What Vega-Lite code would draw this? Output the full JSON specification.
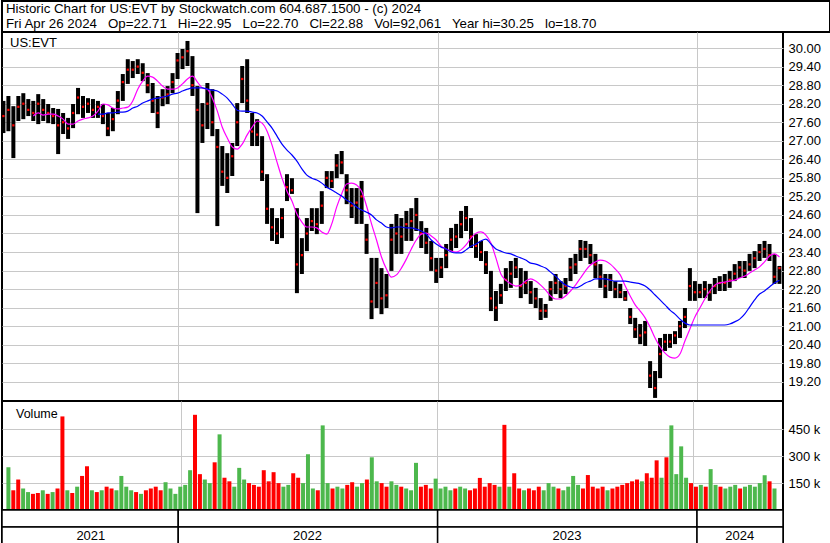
{
"$schema":"https://vega.github.io/schema/vega-lite/v6.json",
"padding":0,"spacing":0,"bounds":"flush","background":"white",
"config":{"font":"Liberation Sans","view":{"stroke":"#000000","strokeWidth":2},
"axis":{"labelFont":"Liberation Sans","labelColor":"#000000","gridColor":"#c8c8c8","gridOpacity":1,"gridWidth":1,"domain":false,"ticks":false,"title":null}},
"datasets":{
"w":[
{"d":"2021-04-30","h":28.29,"l":27.25,"c":27.8,"v":239,"u":1},
{"d":"2021-05-07","h":28.45,"l":27.31,"c":28.0,"v":110,"u":0},
{"d":"2021-05-14","h":28.12,"l":26.44,"c":27.5,"v":170,"u":0},
{"d":"2021-05-21","h":28.45,"l":27.64,"c":28.1,"v":120,"u":1},
{"d":"2021-05-28","h":28.54,"l":27.70,"c":28.2,"v":100,"u":1},
{"d":"2021-06-04","h":28.35,"l":27.80,"c":28.0,"v":90,"u":0},
{"d":"2021-06-11","h":28.29,"l":27.64,"c":27.9,"m1":27.80,"v":95,"u":0},
{"d":"2021-06-18","h":28.51,"l":27.54,"c":28.2,"m1":27.90,"v":110,"u":1},
{"d":"2021-06-25","h":28.35,"l":27.64,"c":28.0,"m1":27.83,"v":90,"u":0},
{"d":"2021-07-02","h":28.19,"l":27.57,"c":27.9,"m1":27.86,"v":100,"u":1},
{"d":"2021-07-09","h":28.06,"l":27.54,"c":27.8,"m1":27.86,"v":120,"u":0},
{"d":"2021-07-16","h":28.03,"l":26.57,"c":27.5,"m1":27.80,"v":522,"u":0},
{"d":"2021-07-23","h":27.90,"l":27.22,"c":27.6,"m1":27.70,"v":110,"u":1},
{"d":"2021-07-30","h":27.74,"l":27.06,"c":27.4,"m1":27.54,"v":95,"u":0},
{"d":"2021-08-06","h":28.19,"l":27.41,"c":27.9,"m1":27.54,"v":130,"u":1},
{"d":"2021-08-13","h":28.71,"l":27.86,"c":28.4,"m1":27.64,"v":190,"u":0},
{"d":"2021-08-20","h":28.45,"l":27.74,"c":28.1,"m1":27.70,"v":244,"u":0},
{"d":"2021-08-27","h":28.38,"l":27.90,"c":28.2,"m1":27.74,"v":110,"u":1},
{"d":"2021-09-03","h":28.35,"l":27.74,"c":28.0,"m1":27.80,"v":100,"u":0},
{"d":"2021-09-10","h":28.29,"l":27.74,"c":28.1,"m1":27.96,"m2":27.86,"v":110,"u":1},
{"d":"2021-09-17","h":28.19,"l":27.54,"c":27.8,"m1":28.19,"m2":27.86,"v":130,"u":0},
{"d":"2021-09-24","h":27.90,"l":27.15,"c":27.4,"m1":28.16,"m2":27.90,"v":120,"u":0},
{"d":"2021-10-01","h":28.06,"l":27.31,"c":27.7,"m1":28.06,"m2":27.90,"v":110,"u":1},
{"d":"2021-10-08","h":28.61,"l":27.86,"c":28.3,"m1":28.03,"m2":27.93,"v":190,"u":1},
{"d":"2021-10-15","h":29.16,"l":28.29,"c":28.9,"m1":28.06,"m2":27.93,"v":130,"u":1},
{"d":"2021-10-22","h":29.64,"l":28.84,"c":29.3,"m1":28.09,"m2":27.96,"v":110,"u":1},
{"d":"2021-10-29","h":29.58,"l":29.03,"c":29.3,"m1":28.29,"m2":28.06,"v":100,"u":0},
{"d":"2021-11-05","h":29.64,"l":29.16,"c":29.4,"m1":28.67,"m2":28.12,"v":90,"u":1},
{"d":"2021-11-12","h":29.51,"l":28.93,"c":29.2,"m1":28.93,"m2":28.22,"v":110,"u":0},
{"d":"2021-11-19","h":29.19,"l":28.54,"c":28.8,"m1":29.09,"m2":28.29,"v":120,"u":0},
{"d":"2021-11-26","h":28.87,"l":27.90,"c":28.3,"m1":29.06,"m2":28.35,"v":130,"u":0},
{"d":"2021-12-03","h":28.45,"l":27.41,"c":27.9,"m1":28.93,"m2":28.38,"v":110,"u":0},
{"d":"2021-12-10","h":28.67,"l":28.12,"c":28.4,"m1":28.77,"m2":28.41,"v":155,"u":1},
{"d":"2021-12-17","h":28.77,"l":28.19,"c":28.5,"m1":28.67,"m2":28.45,"v":120,"u":1},
{"d":"2021-12-24","h":29.19,"l":28.54,"c":28.9,"m1":28.67,"m2":28.51,"v":90,"u":1},
{"d":"2021-12-31","h":29.84,"l":29.00,"c":29.6,"m1":28.71,"m2":28.54,"v":130,"u":1},
{"d":"2022-01-07","h":29.97,"l":29.32,"c":29.7,"m1":28.84,"m2":28.61,"v":140,"u":1},
{"d":"2022-01-14","h":30.23,"l":29.42,"c":29.9,"m1":29.00,"m2":28.67,"v":222,"u":1},
{"d":"2022-01-21","h":29.74,"l":28.45,"c":28.8,"m1":29.09,"m2":28.71,"v":531,"u":0},
{"d":"2022-01-28","h":28.77,"l":24.66,"c":28.0,"m1":28.90,"m2":28.71,"v":200,"u":0},
{"d":"2022-02-04","h":28.22,"l":26.93,"c":27.5,"m1":28.71,"m2":28.71,"v":170,"u":1},
{"d":"2022-02-11","h":28.87,"l":27.38,"c":28.2,"m1":28.67,"m2":28.67,"v":150,"u":1},
{"d":"2022-02-18","h":28.67,"l":27.15,"c":27.6,"m1":28.38,"m2":28.64,"v":266,"u":0},
{"d":"2022-02-25","h":27.38,"l":24.24,"c":26.8,"m1":27.96,"m2":28.61,"v":422,"u":1},
{"d":"2022-03-04","h":26.83,"l":25.54,"c":26.0,"m1":27.44,"m2":28.51,"v":180,"u":0},
{"d":"2022-03-11","h":26.60,"l":25.31,"c":25.8,"m1":27.09,"m2":28.38,"v":160,"u":0},
{"d":"2022-03-18","h":26.93,"l":25.86,"c":26.5,"m1":26.80,"m2":28.19,"v":130,"u":1},
{"d":"2022-03-25","h":28.22,"l":26.83,"c":27.6,"m1":26.73,"m2":27.99,"v":235,"u":1},
{"d":"2022-04-01","h":29.42,"l":28.22,"c":29.0,"m1":26.89,"m2":27.96,"v":170,"u":1},
{"d":"2022-04-08","h":29.64,"l":27.90,"c":28.3,"m1":27.19,"m2":27.96,"v":150,"u":0},
{"d":"2022-04-15","h":27.90,"l":26.83,"c":27.3,"m1":27.44,"m2":27.93,"v":140,"u":0},
{"d":"2022-04-22","h":27.70,"l":26.83,"c":27.2,"m1":27.64,"m2":27.90,"v":130,"u":0},
{"d":"2022-04-29","h":27.15,"l":25.70,"c":26.0,"m1":27.57,"m2":27.80,"v":222,"u":0},
{"d":"2022-05-06","h":25.92,"l":24.31,"c":24.8,"m1":27.31,"m2":27.61,"v":160,"u":0},
{"d":"2022-05-13","h":24.82,"l":23.76,"c":24.2,"m1":26.86,"m2":27.41,"v":211,"u":0},
{"d":"2022-05-20","h":24.50,"l":23.66,"c":24.0,"m1":26.31,"m2":27.15,"v":150,"u":0},
{"d":"2022-05-27","h":24.82,"l":23.85,"c":24.5,"m1":25.79,"m2":26.89,"v":130,"u":1},
{"d":"2022-06-03","h":25.92,"l":25.05,"c":25.5,"m1":25.37,"m2":26.70,"v":140,"u":1},
{"d":"2022-06-10","h":25.79,"l":25.28,"c":25.4,"m1":25.05,"m2":26.54,"v":205,"u":0},
{"d":"2022-06-17","h":24.82,"l":22.07,"c":23.0,"m1":24.63,"m2":26.34,"v":180,"u":0},
{"d":"2022-06-24","h":23.85,"l":22.69,"c":23.3,"m1":24.37,"m2":26.09,"v":150,"u":1},
{"d":"2022-07-01","h":24.50,"l":23.43,"c":24.0,"m1":24.21,"m2":25.89,"v":311,"u":1},
{"d":"2022-07-08","h":24.82,"l":24.08,"c":24.4,"m1":24.21,"m2":25.79,"v":120,"u":1},
{"d":"2022-07-15","h":24.82,"l":23.98,"c":24.3,"m1":24.18,"m2":25.73,"v":110,"u":0},
{"d":"2022-07-22","h":25.37,"l":24.31,"c":24.9,"m1":24.05,"m2":25.63,"v":472,"u":1},
{"d":"2022-07-29","h":26.02,"l":25.47,"c":25.8,"m1":23.98,"m2":25.50,"v":150,"u":1},
{"d":"2022-08-05","h":26.02,"l":25.47,"c":25.7,"m1":24.31,"m2":25.41,"v":120,"u":0},
{"d":"2022-08-12","h":26.57,"l":25.79,"c":26.2,"m1":24.86,"m2":25.31,"v":130,"u":1},
{"d":"2022-08-19","h":26.67,"l":25.92,"c":26.3,"m1":25.28,"m2":25.21,"v":120,"u":1},
{"d":"2022-08-26","h":25.92,"l":24.95,"c":25.4,"m1":25.60,"m2":25.08,"v":140,"u":0},
{"d":"2022-09-02","h":25.47,"l":24.50,"c":24.9,"m1":25.63,"m2":24.99,"v":155,"u":0},
{"d":"2022-09-09","h":25.47,"l":24.31,"c":25.0,"m1":25.57,"m2":24.86,"v":130,"u":1},
{"d":"2022-09-16","h":25.70,"l":24.31,"c":25.2,"m1":25.37,"m2":24.76,"v":150,"u":1},
{"d":"2022-09-23","h":24.31,"l":23.34,"c":23.8,"m1":24.89,"m2":24.69,"v":170,"u":0},
{"d":"2022-09-30","h":23.21,"l":21.23,"c":21.8,"m1":24.31,"m2":24.60,"v":294,"u":1},
{"d":"2022-10-07","h":23.21,"l":21.59,"c":22.4,"m1":23.79,"m2":24.44,"v":160,"u":1},
{"d":"2022-10-14","h":22.88,"l":21.39,"c":21.9,"m1":23.24,"m2":24.34,"v":150,"u":0},
{"d":"2022-10-21","h":22.69,"l":21.59,"c":22.0,"m1":22.85,"m2":24.21,"v":130,"u":0},
{"d":"2022-10-28","h":24.31,"l":22.79,"c":23.8,"m1":22.59,"m2":24.18,"v":160,"u":1},
{"d":"2022-11-04","h":24.63,"l":23.34,"c":24.0,"m1":22.66,"m2":24.21,"v":140,"u":1},
{"d":"2022-11-11","h":24.50,"l":23.34,"c":23.9,"m1":22.88,"m2":24.21,"v":130,"u":0},
{"d":"2022-11-18","h":24.73,"l":23.76,"c":24.3,"m1":23.17,"m2":24.18,"v":120,"u":1},
{"d":"2022-11-25","h":24.82,"l":23.76,"c":24.4,"m1":23.50,"m2":24.18,"v":110,"u":1},
{"d":"2022-12-02","h":25.15,"l":24.08,"c":24.6,"m1":23.79,"m2":24.14,"v":263,"u":1},
{"d":"2022-12-09","h":24.40,"l":23.53,"c":24.0,"m1":23.98,"m2":24.08,"v":130,"u":0},
{"d":"2022-12-16","h":24.18,"l":23.34,"c":23.7,"m1":24.01,"m2":23.98,"v":140,"u":0},
{"d":"2022-12-23","h":23.76,"l":22.79,"c":23.2,"m1":23.92,"m2":23.79,"v":120,"u":0},
{"d":"2022-12-30","h":23.21,"l":22.40,"c":22.8,"m1":23.79,"m2":23.66,"v":175,"u":1},
{"d":"2023-01-06","h":23.21,"l":22.56,"c":22.9,"m1":23.59,"m2":23.56,"v":120,"u":1},
{"d":"2023-01-13","h":23.66,"l":22.88,"c":23.3,"m1":23.50,"m2":23.50,"v":130,"u":1},
{"d":"2023-01-20","h":24.18,"l":23.43,"c":23.8,"m1":23.43,"m2":23.40,"v":110,"u":1},
{"d":"2023-01-27","h":24.31,"l":23.53,"c":23.9,"m1":23.40,"m2":23.37,"v":120,"u":0},
{"d":"2023-02-03","h":24.73,"l":23.85,"c":24.3,"m1":23.47,"m2":23.37,"v":130,"u":1},
{"d":"2023-02-10","h":24.89,"l":24.08,"c":24.5,"m1":23.63,"m2":23.47,"v":120,"u":1},
{"d":"2023-02-17","h":24.50,"l":23.53,"c":23.9,"m1":23.85,"m2":23.59,"v":110,"u":0},
{"d":"2023-02-24","h":23.98,"l":23.21,"c":23.6,"m1":24.01,"m2":23.66,"v":120,"u":0},
{"d":"2023-03-03","h":23.76,"l":23.11,"c":23.4,"m1":24.05,"m2":23.76,"v":179,"u":0},
{"d":"2023-03-10","h":23.43,"l":22.69,"c":23.0,"m1":23.95,"m2":23.82,"v":130,"u":0},
{"d":"2023-03-17","h":22.79,"l":21.49,"c":21.9,"m1":23.69,"m2":23.66,"v":150,"u":0},
{"d":"2023-03-24","h":22.14,"l":21.17,"c":21.6,"m1":23.21,"m2":23.50,"v":140,"u":0},
{"d":"2023-03-31","h":22.37,"l":21.72,"c":22.0,"m1":22.69,"m2":23.43,"v":130,"u":1},
{"d":"2023-04-07","h":22.88,"l":22.14,"c":22.5,"m1":22.49,"m2":23.37,"v":475,"u":0},
{"d":"2023-04-14","h":23.11,"l":22.24,"c":22.7,"m1":22.37,"m2":23.34,"v":130,"u":1},
{"d":"2023-04-21","h":23.21,"l":22.56,"c":22.9,"m1":22.30,"m2":23.27,"v":205,"u":0},
{"d":"2023-04-28","h":22.88,"l":21.91,"c":22.3,"m1":22.33,"m2":23.21,"v":120,"u":0},
{"d":"2023-05-05","h":22.79,"l":22.04,"c":22.4,"m1":22.46,"m2":23.14,"v":110,"u":1},
{"d":"2023-05-12","h":22.46,"l":21.72,"c":22.1,"m1":22.53,"m2":23.04,"v":120,"u":0},
{"d":"2023-05-19","h":22.24,"l":21.59,"c":21.9,"m1":22.46,"m2":23.01,"v":110,"u":0},
{"d":"2023-05-26","h":21.91,"l":21.20,"c":21.5,"m1":22.33,"m2":22.95,"v":130,"u":0},
{"d":"2023-06-02","h":21.72,"l":21.27,"c":21.5,"m1":22.17,"m2":22.88,"v":110,"u":1},
{"d":"2023-06-09","h":22.46,"l":21.82,"c":22.2,"m1":21.98,"m2":22.75,"v":150,"u":1},
{"d":"2023-06-16","h":22.69,"l":22.04,"c":22.4,"m1":21.88,"m2":22.62,"v":130,"u":1},
{"d":"2023-06-23","h":22.46,"l":21.91,"c":22.2,"m1":21.88,"m2":22.46,"v":120,"u":0},
{"d":"2023-06-30","h":22.56,"l":22.04,"c":22.3,"m1":21.98,"m2":22.33,"v":110,"u":1},
{"d":"2023-07-07","h":23.21,"l":22.46,"c":22.9,"m1":22.14,"m2":22.27,"v":130,"u":1},
{"d":"2023-07-14","h":23.34,"l":22.69,"c":23.0,"m1":22.33,"m2":22.24,"v":190,"u":1},
{"d":"2023-07-21","h":23.79,"l":23.11,"c":23.5,"m1":22.56,"m2":22.30,"v":140,"u":1},
{"d":"2023-07-28","h":23.76,"l":23.21,"c":23.5,"m1":22.79,"m2":22.40,"v":120,"u":0},
{"d":"2023-08-04","h":23.66,"l":23.01,"c":23.3,"m1":22.98,"m2":22.46,"v":195,"u":0},
{"d":"2023-08-11","h":23.34,"l":22.56,"c":23.0,"m1":23.08,"m2":22.53,"v":130,"u":0},
{"d":"2023-08-18","h":23.01,"l":22.24,"c":22.6,"m1":23.14,"m2":22.53,"v":120,"u":0},
{"d":"2023-08-25","h":22.69,"l":21.91,"c":22.3,"m1":23.11,"m2":22.53,"v":130,"u":0},
{"d":"2023-09-01","h":22.69,"l":22.14,"c":22.5,"m1":23.01,"m2":22.49,"v":110,"u":1},
{"d":"2023-09-08","h":22.46,"l":21.91,"c":22.2,"m1":22.85,"m2":22.46,"v":120,"u":0},
{"d":"2023-09-15","h":22.37,"l":21.91,"c":22.1,"m1":22.66,"m2":22.46,"v":130,"u":0},
{"d":"2023-09-22","h":22.14,"l":21.82,"c":21.9,"m1":22.30,"m2":22.46,"v":140,"u":0},
{"d":"2023-09-29","h":21.59,"l":21.07,"c":21.3,"m1":21.98,"m2":22.43,"v":150,"u":0},
{"d":"2023-10-06","h":21.27,"l":20.62,"c":20.9,"m1":21.69,"m2":22.40,"v":160,"u":0},
{"d":"2023-10-13","h":21.07,"l":20.42,"c":20.7,"m1":21.49,"m2":22.37,"v":170,"u":0},
{"d":"2023-10-20","h":21.17,"l":20.36,"c":20.8,"m1":21.27,"m2":22.30,"v":160,"u":1},
{"d":"2023-10-27","h":19.87,"l":19.00,"c":19.4,"m1":20.97,"m2":22.17,"v":205,"u":0},
{"d":"2023-11-03","h":19.55,"l":18.68,"c":19.0,"m1":20.62,"m2":22.01,"v":180,"u":0},
{"d":"2023-11-10","h":20.62,"l":19.32,"c":20.1,"m1":20.33,"m2":21.85,"v":277,"u":0},
{"d":"2023-11-17","h":20.75,"l":20.20,"c":20.5,"m1":20.13,"m2":21.69,"v":180,"u":1},
{"d":"2023-11-24","h":20.75,"l":20.30,"c":20.5,"m1":20.00,"m2":21.52,"v":294,"u":0},
{"d":"2023-12-01","h":20.84,"l":20.42,"c":20.7,"m1":19.97,"m2":21.39,"v":472,"u":1},
{"d":"2023-12-08","h":21.17,"l":20.62,"c":21.0,"m1":20.10,"m2":21.23,"v":200,"u":1},
{"d":"2023-12-15","h":21.59,"l":20.94,"c":21.3,"m1":20.52,"m2":21.10,"v":355,"u":1},
{"d":"2023-12-22","h":22.88,"l":21.82,"c":22.3,"m1":20.91,"m2":21.04,"v":180,"u":1},
{"d":"2023-12-29","h":22.46,"l":21.82,"c":22.1,"m1":21.30,"m2":21.04,"v":150,"u":0},
{"d":"2024-01-05","h":22.37,"l":21.91,"c":22.1,"m1":21.59,"m2":21.04,"v":130,"u":0},
{"d":"2024-01-12","h":22.46,"l":21.91,"c":22.2,"m1":21.88,"m2":21.04,"v":140,"u":1},
{"d":"2024-01-19","h":22.37,"l":21.82,"c":22.1,"m1":22.14,"m2":21.04,"v":130,"u":0},
{"d":"2024-01-26","h":22.56,"l":22.04,"c":22.3,"m1":22.33,"m2":21.04,"v":228,"u":1},
{"d":"2024-02-02","h":22.62,"l":22.14,"c":22.4,"m1":22.40,"m2":21.04,"v":140,"u":1},
{"d":"2024-02-09","h":22.69,"l":22.14,"c":22.4,"m1":22.43,"m2":21.04,"v":130,"u":0},
{"d":"2024-02-16","h":22.79,"l":22.24,"c":22.5,"m1":22.46,"m2":21.07,"v":120,"u":1},
{"d":"2024-02-23","h":23.01,"l":22.46,"c":22.7,"m1":22.49,"m2":21.14,"v":130,"u":1},
{"d":"2024-03-01","h":23.11,"l":22.56,"c":22.9,"m1":22.56,"m2":21.23,"v":140,"u":1},
{"d":"2024-03-08","h":23.11,"l":22.56,"c":22.8,"m1":22.62,"m2":21.39,"v":120,"u":0},
{"d":"2024-03-15","h":23.34,"l":22.79,"c":23.0,"m1":22.72,"m2":21.62,"v":130,"u":1},
{"d":"2024-03-22","h":23.43,"l":22.88,"c":23.2,"m1":22.82,"m2":21.85,"v":140,"u":1},
{"d":"2024-03-29","h":23.66,"l":23.11,"c":23.4,"m1":22.92,"m2":22.04,"v":130,"u":1},
{"d":"2024-04-05","h":23.76,"l":23.21,"c":23.5,"m1":23.08,"m2":22.14,"v":150,"u":1},
{"d":"2024-04-12","h":23.66,"l":23.11,"c":23.3,"m1":23.27,"m2":22.27,"v":194,"u":1},
{"d":"2024-04-19","h":23.34,"l":22.37,"c":22.6,"m1":23.34,"m2":22.40,"v":160,"u":0},
{"d":"2024-04-26","h":22.95,"l":22.37,"c":22.88,"m1":23.24,"m2":22.49,"v":120,"u":1}
],
"yrs":[
{"year":"2021","s":"2021-04-28","e":"2022-01-01","m":"2021-08-31"},
{"year":"2022","s":"2022-01-01","e":"2023-01-01","m":"2022-07-02"},
{"year":"2023","s":"2023-01-01","e":"2024-01-01","m":"2023-07-02"},
{"year":"2024","s":"2024-01-01","e":"2024-05-01","m":"2024-03-01"}
]
},
"vconcat":[
{
"width":828,"height":31,
"data":{"values":[
{"line":1,"t":"Historic Chart for US:EVT by Stockwatch.com 604.687.1500 - (c) 2024"},
{"line":2,"t":"Fri Apr 26 2024\u00a0\u00a0 Op=22.71\u00a0\u00a0 Hi=22.95\u00a0\u00a0 Lo=22.70\u00a0\u00a0 Cl=22.88\u00a0\u00a0 Vol=92,061\u00a0\u00a0 Year hi=30.25\u00a0\u00a0 lo=18.70"}
]},
"mark":{"type":"text","align":"left","baseline":"middle","fontSize":13.3,"dx":4,"color":"#000000"},
"encoding":{
"x":{"datum":0,"type":"quantitative","scale":{"domain":[0,1]},"axis":null},
"y":{"field":"line","type":"ordinal","axis":null,"scale":{"paddingInner":0,"paddingOuter":0}},
"text":{"field":"t"}
}
},
{
"width":781,"height":369,
"data":{"name":"w"},
"encoding":{"x":{"field":"d","type":"temporal","scale":{"type":"utc","domain":[{"year":2021,"month":4,"date":28,"utc":true},{"year":2024,"month":5,"date":1,"utc":true}]},
"axis":{"values":[{"year":2022,"month":1,"date":1,"utc":true},{"year":2023,"month":1,"date":1,"utc":true},{"year":2024,"month":1,"date":1,"utc":true}],"labels":false,"grid":true,"minExtent":0,"maxExtent":0}}},
"layer":[
{"mark":{"type":"rule","strokeWidth":4,"color":"#000000","clip":true},
"encoding":{"y":{"field":"l","type":"quantitative","title":null,"scale":{"domain":[18.58,30.52],"nice":false,"zero":false},
"axis":{"orient":"right","values":[19.2,19.8,20.4,21.0,21.6,22.2,22.8,23.4,24.0,24.6,25.2,25.8,26.4,27.0,27.6,28.2,28.8,29.4,30.0],"format":".2f","grid":true,"labelPadding":5,"labelFontSize":13}},
"y2":{"field":"h"}}},
{"mark":{"type":"point","shape":"square","size":5,"filled":true,"color":"#ff0000","opacity":1,"clip":true},
"encoding":{"y":{"field":"c","type":"quantitative","title":null,"scale":{"domain":[18.58,30.52],"nice":false,"zero":false},
"axis":{"orient":"right","values":[19.2,19.8,20.4,21.0,21.6,22.2,22.8,23.4,24.0,24.6,25.2,25.8,26.4,27.0,27.6,28.2,28.8,29.4,30.0],"format":".2f","grid":true,"labelPadding":5,"labelFontSize":13}}}},
{"mark":{"type":"line","color":"#ff00ff","strokeWidth":1.2,"interpolate":"monotone","clip":true},
"encoding":{"y":{"field":"m1","type":"quantitative","title":null,"scale":{"domain":[18.58,30.52],"nice":false,"zero":false},
"axis":{"orient":"right","values":[19.2,19.8,20.4,21.0,21.6,22.2,22.8,23.4,24.0,24.6,25.2,25.8,26.4,27.0,27.6,28.2,28.8,29.4,30.0],"format":".2f","grid":true,"labelPadding":5,"labelFontSize":13}}}},
{"mark":{"type":"line","color":"#0000ff","strokeWidth":1.2,"interpolate":"monotone","clip":true},
"encoding":{"y":{"field":"m2","type":"quantitative","title":null,"scale":{"domain":[18.58,30.52],"nice":false,"zero":false},
"axis":{"orient":"right","values":[19.2,19.8,20.4,21.0,21.6,22.2,22.8,23.4,24.0,24.6,25.2,25.8,26.4,27.0,27.6,28.2,28.8,29.4,30.0],"format":".2f","grid":true,"labelPadding":5,"labelFontSize":13}}}},
{"data":{"values":[{"d":"2021-04-28","t":"US:EVT"}]},
"mark":{"type":"text","align":"left","baseline":"alphabetic","dx":8,"fontSize":13,"color":"#000000"},
"encoding":{"y":{"datum":30.04,"type":"quantitative","title":null,"scale":{"domain":[18.58,30.52],"nice":false,"zero":false},
"axis":{"orient":"right","values":[19.2,19.8,20.4,21.0,21.6,22.2,22.8,23.4,24.0,24.6,25.2,25.8,26.4,27.0,27.6,28.2,28.8,29.4,30.0],"format":".2f","grid":true,"labelPadding":5,"labelFontSize":13}},"text":{"field":"t"}}}
]
},
{
"width":781,"height":109,
"data":{"name":"w"},
"encoding":{"x":{"field":"d","type":"temporal","scale":{"type":"utc","domain":[{"year":2021,"month":4,"date":28,"utc":true},{"year":2024,"month":5,"date":1,"utc":true}]},
"axis":{"values":[{"year":2022,"month":1,"date":1,"utc":true},{"year":2023,"month":1,"date":1,"utc":true},{"year":2024,"month":1,"date":1,"utc":true}],"labels":false,"grid":true,"minExtent":0,"maxExtent":0}}},
"layer":[
{"mark":{"type":"bar","width":4,"clip":true},
"encoding":{"y":{"field":"v","type":"quantitative","title":null,"scale":{"domain":[0,608],"nice":false},
"axis":{"orient":"right","values":[150,300,450],"labelExpr":"datum.value + ' k'","grid":true,"labelPadding":5,"labelFontSize":13}},
"color":{"field":"u","type":"nominal","scale":{"domain":[1,0],"range":["#4db84d","#ff0000"]},"legend":null}}},
{"data":{"values":[{"d":"2021-04-28","t":"Volume"}]},
"mark":{"type":"text","align":"left","baseline":"alphabetic","dx":9,"fontSize":12.5,"color":"#000000"},
"encoding":{"y":{"datum":513,"type":"quantitative","title":null,"scale":{"domain":[0,608],"nice":false},
"axis":{"orient":"right","values":[150,300,450],"labelExpr":"datum.value + ' k'","grid":true,"labelPadding":5,"labelFontSize":13}},"text":{"field":"t"}}}
]
},
{
"width":781,"height":34,
"data":{"name":"yrs"},
"layer":[
{"mark":{"type":"rect","fill":"#ffffff","stroke":"#000000","strokeWidth":1.5},
"encoding":{"x":{"field":"s","type":"temporal","scale":{"type":"utc","domain":[{"year":2021,"month":4,"date":28,"utc":true},{"year":2024,"month":5,"date":1,"utc":true}]},"axis":null},"x2":{"field":"e"},
"y":{"datum":1,"type":"quantitative","scale":{"domain":[0,2],"nice":false},"axis":null},"y2":{"datum":2}}},
{"mark":{"type":"rect","fill":"#ffffff","stroke":"#000000","strokeWidth":1.5},
"encoding":{"x":{"field":"s","type":"temporal","scale":{"type":"utc","domain":[{"year":2021,"month":4,"date":28,"utc":true},{"year":2024,"month":5,"date":1,"utc":true}]},"axis":null},"x2":{"field":"e"},
"y":{"datum":0,"type":"quantitative","scale":{"domain":[0,2],"nice":false},"axis":null},"y2":{"datum":1}}},
{"mark":{"type":"text","fontSize":13,"baseline":"middle","align":"center","color":"#000000"},
"encoding":{"x":{"field":"m","type":"temporal","scale":{"type":"utc","domain":[{"year":2021,"month":4,"date":28,"utc":true},{"year":2024,"month":5,"date":1,"utc":true}]},"axis":null},
"y":{"datum":0.5,"type":"quantitative","scale":{"domain":[0,2],"nice":false},"axis":null},"text":{"field":"year"}}}
]
}
]
}
